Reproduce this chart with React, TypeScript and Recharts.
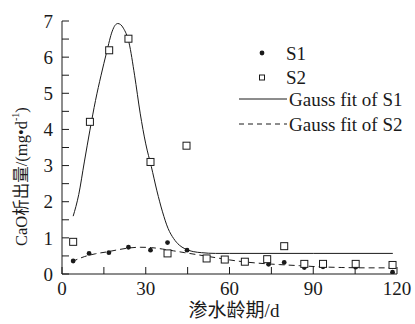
import { ComposedChart, Line, Scatter, XAxis, YAxis } from 'recharts';

// S1 measured points (filled dots)
const s1Days = [4, 9.7, 16.8, 23.8, 31.7, 37.8, 44.8, 51.8, 58.3, 65.5, 74, 79.6, 86.8, 93.5, 105.2, 118.4];
const s1Values = [0.36, 0.57, 0.59, 0.74, 0.66, 0.87, 0.66, 0.45, 0.41, 0.33, 0.27, 0.32, 0.18, 0.2, 0.19, 0.05];

// S2 measured points (open squares)
const s2Days = [4, 10, 16.9, 23.8, 31.7, 37.8, 44.6, 51.8, 58.3, 65.5, 73.5, 79.6, 86.8, 93.5, 105.2, 118.4];
const s2Values = [0.89, 4.21, 6.19, 6.51, 3.1, 0.57, 3.55, 0.43, 0.4, 0.34, 0.41, 0.77, 0.28, 0.28, 0.28, 0.25];

// fitted curves
const fitADays = [4, 6, 8, 10, 12, 14, 16, 18, 19, 20, 21, 22, 24, 26, 28, 30, 32, 34, 36, 38, 40, 42, 44, 47, 50, 55, 60, 90, 118.5];
const fitAValues = [1.6, 2.2, 3.1, 3.98, 4.8, 5.5, 6.14, 6.72, 6.88, 6.93, 6.9, 6.8, 6.4, 5.5, 4.45, 3.6, 2.97, 2.3, 1.72, 1.26, 0.98, 0.8, 0.7, 0.62, 0.59, 0.57, 0.57, 0.57, 0.57];
const fitBDays = [3.5, 8, 12, 16, 20, 24, 28, 32, 36, 40, 44, 48, 52, 56, 60, 66, 72, 78, 85, 92, 100, 110, 118.5];
const fitBValues = [0.34, 0.48, 0.56, 0.61, 0.67, 0.72, 0.74, 0.73, 0.69, 0.64, 0.59, 0.54, 0.49, 0.44, 0.39, 0.33, 0.29, 0.26, 0.23, 0.2, 0.18, 0.17, 0.17];

const xTicks = [0, 15, 30, 45, 60, 75, 90, 105, 120];
const yTicks = [0, 0.5, 1, 1.5, 2, 2.5, 3, 3.5, 4, 4.5, 5, 5.5, 6, 6.5, 7];

const legendNames = ['S1', 'S2', 'Gauss fit of S1', 'Gauss fit of S2'];
const xTitle = '渗水龄期/d';

const toPoints = (xs: number[], ys: number[]) => xs.map((x, i) => ({ x, y: ys[i] }));

const s1 = toPoints(s1Days, s1Values);
const s2 = toPoints(s2Days, s2Values);
const fitA = toPoints(fitADays, fitAValues);
const fitB = toPoints(fitBDays, fitBValues);

const FONT = '"Liberation Serif", "Times New Roman", "Noto Sans CJK SC", serif';
const INK = '#1a1a1a';

const Dot = (props: any) => <circle cx={props.cx} cy={props.cy} r={2.4} fill={INK} />;
const Square = (props: any) => (
  <rect x={props.cx - 3.5} y={props.cy - 3.5} width={7} height={7} fill="#fff" stroke={INK} strokeWidth={1} />
);

// legend and axis titles drawn on top of the chart
function Overlay() {
  return (
    <svg width={415} height={324} style={{ position: 'absolute', left: 0, top: 0, pointerEvents: 'none' }}>
      <g fontFamily={FONT} fill={INK}>
        <text
          transform="translate(21,246) rotate(-90)"
          textAnchor="start"
          dominantBaseline="central"
          fontSize={16.5}
          fill={INK}
        >
          <tspan>CaO析出量/(mg•d</tspan>
          <tspan dy={-6} fontSize={10}>-1</tspan>
          <tspan dy={6}>)</tspan>
        </text>
        <text x={234} y={310} textAnchor="middle" dominantBaseline="central" fontSize={19} fill={INK}>
          {xTitle}
        </text>
      </g>
      <g fontFamily={FONT} fontSize={19} fill={INK}>
        <circle cx={262} cy={53} r={2.4} fill={INK} />
        <text x={286} y={53} dominantBaseline="central">{legendNames[0]}</text>
        <rect x={259.5} y={75} width={5} height={5} fill="#fff" stroke={INK} />
        <text x={286} y={77} dominantBaseline="central">{legendNames[1]}</text>
        <line x1={239} x2={287} y1={99} y2={99} stroke={INK} strokeWidth={1} />
        <text x={289} y={99} dominantBaseline="central">{legendNames[2]}</text>
        <line x1={239} x2={287} y1={124} y2={124} stroke={INK} strokeWidth={1} strokeDasharray="5 4" />
        <text x={289} y={124} dominantBaseline="central">{legendNames[3]}</text>
      </g>
    </svg>
  );
}

export default function App() {
  return (
    <div style={{ position: 'absolute', left: 0, top: 0, width: 415, height: 324, background: '#fff' }}>
      <ComposedChart width={415} height={324} margin={{ top: 21, right: 18, bottom: 0, left: 0 }}>
        <XAxis
          type="number"
          dataKey="x"
          domain={[0, 120]}
          ticks={xTicks}
          interval={0}
          height={50}
          allowDataOverflow
          tickSize={-7}
          tickMargin={15}
          tickFormatter={(v: number) => (v % 30 === 0 ? String(v) : '')}
          tick={{ fontFamily: FONT, fontSize: 19, fill: INK }}
          stroke={INK}
        />
        <YAxis
          type="number"
          dataKey="y"
          domain={[0, 7]}
          ticks={yTicks}
          interval={0}
          width={62}
          allowDataOverflow
          tickSize={-7}
          tickMargin={16}
          tickFormatter={(v: number) => (Number.isInteger(v) ? String(v) : '')}
          tick={{ fontFamily: FONT, fontSize: 19, fill: INK }}
          stroke={INK}
        />
        <Line data={fitA} dataKey="y" type="monotone" stroke={INK} strokeWidth={1} dot={false} isAnimationActive={false} />
        <Line
          data={fitB}
          dataKey="y"
          type="monotone"
          stroke={INK}
          strokeWidth={1}
          strokeDasharray="6 4"
          dot={false}
          isAnimationActive={false}
        />
        <Scatter data={s1} dataKey="y" shape={<Dot />} isAnimationActive={false} />
        <Scatter data={s2} dataKey="y" shape={<Square />} isAnimationActive={false} />
      </ComposedChart>
      <Overlay />
    </div>
  );
}
